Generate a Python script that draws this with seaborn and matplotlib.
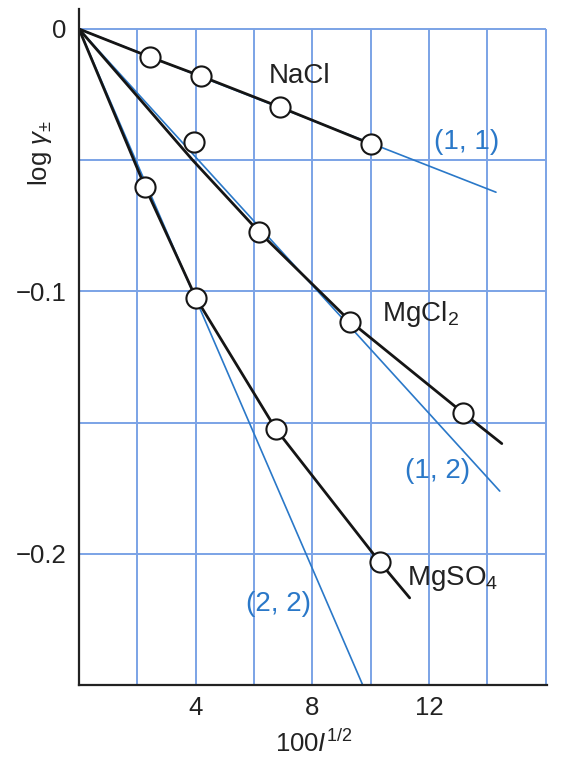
import matplotlib
matplotlib.use("Agg")
import matplotlib.pyplot as plt
import seaborn as sns
import pandas as pd

# ---------------- data ----------------
nacl_x = [2.44, 4.19, 6.90, 10.03]
nacl_y = [-0.0107, -0.0180, -0.0298, -0.0439]
nacl_line_x = [0, 2.44, 4.19, 6.90, 10.03]
nacl_line_y = [0, -0.0107, -0.0180, -0.0298, -0.0439]

mgcl2_x = [3.95, 6.19, 9.31, 13.16]
mgcl2_y = [-0.0431, -0.0775, -0.1115, -0.1462]
mgcl2_line_x = [0, 3.9, 6.19, 9.31, 13.16, 14.5]
mgcl2_line_y = [0, -0.050, -0.0775, -0.1115, -0.1462, -0.158]

mgso4_x = [2.27, 4.02, 6.74, 10.31]
mgso4_y = [-0.0603, -0.1027, -0.1523, -0.2031]
mgso4_line_x = [0, 2.27, 4.02, 6.74, 10.31, 11.34]
mgso4_line_y = [0, -0.0603, -0.1027, -0.1523, -0.2031, -0.2168]

lim11_x = [0, 14.3]
lim11_y = [0, -0.0622]
lim12_x = [0, 14.43]
lim12_y = [0, -0.1761]
lim22_x = [0, 9.73]
lim22_y = [0, -0.25]

x_grid = [0, 2, 4, 6, 8, 10, 12, 14, 16]
x_labels = ["", "", "4", "", "8", "", "12", "", ""]
y_grid = [0, -0.05, -0.10, -0.15, -0.20]
y_labels = ["0", "", "\u22120.1", "", "\u22120.2"]

salt_labels = ["NaCl", r"MgCl$_2$", r"MgSO$_4$"]
salt_label_xy = [(7.55, -0.0180), (11.7, -0.1085), (12.8, -0.2095)]
limit_labels = ["(1, 1)", "(1, 2)", "(2, 2)"]
limit_label_xy = [(13.3, -0.0430), (12.3, -0.1685), (6.85, -0.2190)]

# ---------------- style ----------------
sns.set_style("white")
plt.rcParams["font.family"] = ["Liberation Sans", "DejaVu Sans"]
plt.rcParams["mathtext.fontset"] = "custom"
plt.rcParams["mathtext.rm"] = "Liberation Sans"
plt.rcParams["mathtext.it"] = "Liberation Sans:italic"
plt.rcParams["mathtext.sf"] = "Liberation Sans"

BLUE = "#2a78c8"
GRID = "#7ba3e6"
BLACK = "#151515"
TXT = "#222222"
FS_ANN = 20
FS_TICK = 18.5

fig = plt.figure(figsize=(5.65, 7.57), dpi=100)
ax = fig.add_axes([79 / 565, 72 / 757, 468 / 565, 676 / 757])

ytop = 0.25 * 20 / 656
ax.set_xlim(0, 16.05)
ax.set_ylim(-0.25, ytop)

# grid
ax.vlines(x_grid[1:], -0.25, 0, colors=GRID, lw=1.4, zorder=0)
ax.hlines(y_grid, 0, 16, colors=GRID, lw=1.4, zorder=0)

# limiting-law lines (blue)
for lx, ly in [(lim11_x, lim11_y), (lim12_x, lim12_y), (lim22_x, lim22_y)]:
    sns.lineplot(x=lx, y=ly, ax=ax, color=BLUE, lw=1.2, zorder=1.5,
                 sort=False, estimator=None)

# experimental curves (black)
for lx, ly in [(nacl_line_x, nacl_line_y), (mgcl2_line_x, mgcl2_line_y),
               (mgso4_line_x, mgso4_line_y)]:
    sns.lineplot(x=lx, y=ly, ax=ax, color=BLACK, lw=2.0, zorder=2,
                 sort=False, estimator=None)

# points
pts = pd.DataFrame({
    "x": nacl_x + mgcl2_x + mgso4_x,
    "y": nacl_y + mgcl2_y + mgso4_y,
})
sns.scatterplot(data=pts, x="x", y="y", ax=ax, s=210, color="white",
                edgecolor=BLACK, linewidth=1.5, zorder=3, clip_on=False)

for t, (tx, ty) in zip(salt_labels, salt_label_xy):
    ax.text(tx, ty, t, fontsize=FS_ANN, color=TXT, ha="center", va="center")
for t, (tx, ty) in zip(limit_labels, limit_label_xy):
    ax.text(tx, ty, t, fontsize=FS_ANN, color=BLUE, ha="center", va="center")

ax.set_xticks(x_grid)
ax.set_xticklabels(x_labels, fontsize=FS_TICK, color=TXT)
ax.set_yticks(y_grid)
ax.set_yticklabels(y_labels, fontsize=FS_TICK, color=TXT)
ax.tick_params(length=0, pad=9)
ax.tick_params(axis="x", pad=8)

ax.set_xlabel(r"100$\mathit{I}^{1/2}$", fontsize=FS_TICK, color=TXT)
ax.xaxis.label.set_va("center")
ax.xaxis.set_label_coords(0.503, -0.087)
ax.set_ylabel(r"log $\mathit{\gamma}_{\pm}$", fontsize=FS_TICK, color=TXT)
ax.yaxis.label.set_va("center")
ax.yaxis.set_label_coords(-0.083, 0.787)

for s in ["top", "right"]:
    ax.spines[s].set_visible(False)
for s in ["left", "bottom"]:
    ax.spines[s].set_color("#222222")
    ax.spines[s].set_linewidth(1.6)

fig.savefig("out.png", dpi=100)
